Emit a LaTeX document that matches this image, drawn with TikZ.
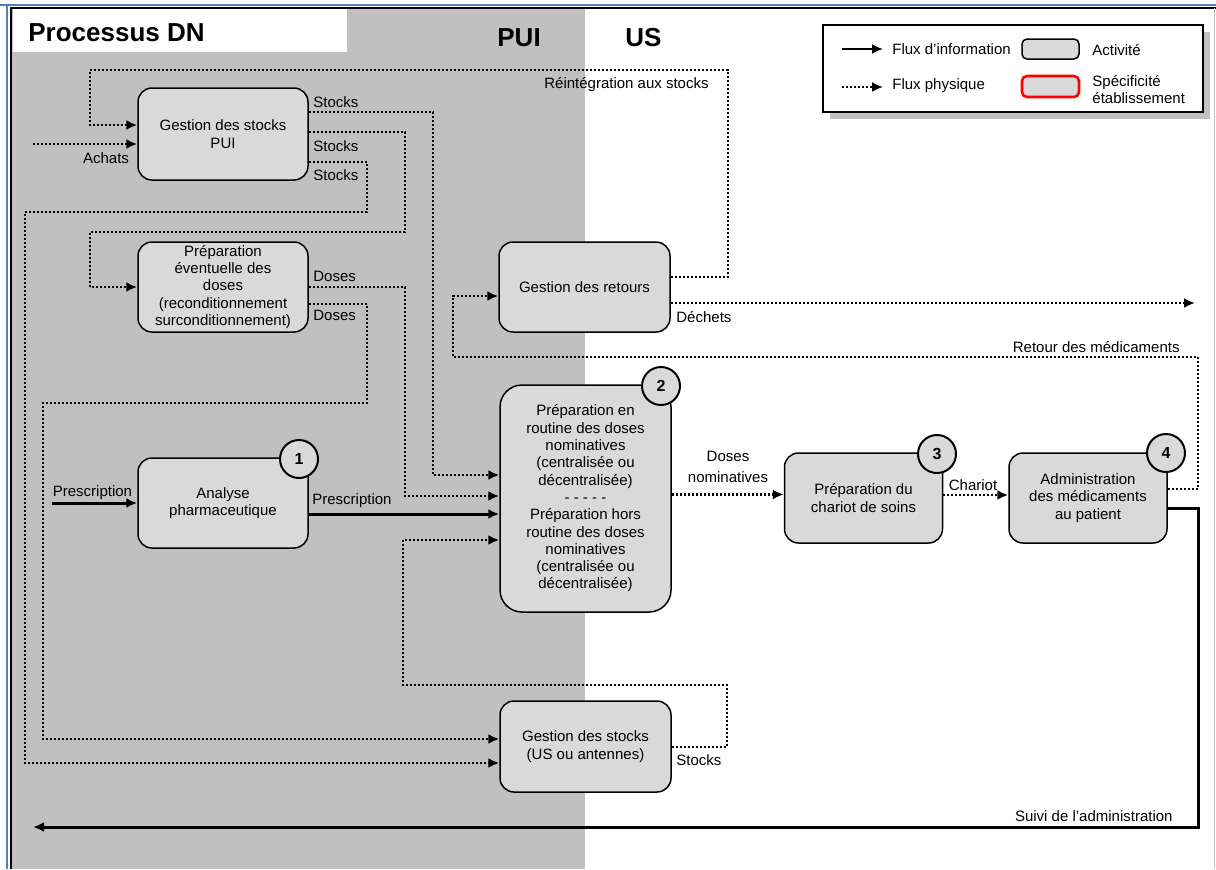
\documentclass[tikz,border=0pt]{standalone}
\usepackage{fontspec}
\setmainfont{Liberation Sans}
\usetikzlibrary{arrows.meta,calc,positioning}

\definecolor{zonegray}{RGB}{192,192,192}
\definecolor{boxgray}{RGB}{217,217,217}
\definecolor{winblue}{RGB}{79,129,189}

\tikzset{
  activite/.style={draw,rectangle,rounded corners=7pt,fill=boxgray,align=center,inner sep=1pt,line width=0.75pt,minimum width=85pt,minimum height=45pt,font=\fontsize{7.5}{8.65}\selectfont},
  numero/.style={draw,circle,fill=boxgray,minimum size=19pt,inner sep=0pt,line width=1pt,font=\bfseries\fontsize{8}{9}\selectfont},
  physique/.style={line width=1.3pt,dash pattern=on 1.1pt off 0.9pt,-{Latex[length=5.5pt,width=5pt]}},
  information/.style={line width=1.5pt,-{Latex[length=5.5pt,width=5pt]}},
  etiq/.style={inner sep=0pt,font=\fontsize{7.5}{8.65}\selectfont},
  gros/.style={inner sep=0pt,anchor=base west,font=\bfseries\fontsize{13}{15}\selectfont}
}

\begin{document}
\begin{tikzpicture}[x=0.5pt,y=-0.5pt]
\useasboundingbox (0,0) rectangle (1216,869);
% fond PUI / US
\fill[zonegray] (11,8) rectangle (585,869);
\fill[white] (13,9) rectangle (347,52);
\draw[winblue,line width=1.2pt] (0,5) -- (1216,5);
\draw[winblue,line width=1.2pt] (7,5) -- (7,869);
\draw[line width=0.8pt] (11,869) -- (11,8) -- (1216,8);
\draw[lightgray] (1214,8) -- (1214,869);

\node[gros] (titre) at (28,41) {Processus DN};
\node[gros] (pui) at (497,46) {PUI};
\node[gros] (us) at (625,46) {US};

% legende
\fill[zonegray] (830,32) rectangle (1210,119);
\draw[fill=white,line width=0.6pt] (823,25) rectangle (1203,112);
\coordinate (li1) at (842,49);
\coordinate (li2) at (883,49);
\coordinate (lp1) at (842,87);
\coordinate (lp2) at (883,87);
\draw[information,line width=1pt] (li1) -- (li2);
\draw[physique,line width=1pt] (lp1) -- (lp2);
\node[etiq,anchor=west] (lgInfo) at (892,49) {Flux d’information};
\node[etiq,anchor=west] (lgPhys) at (892,86) {Flux physique};
\node[activite,minimum width=28.5pt,minimum height=10pt,rounded corners=2.5pt] (lgAct) at (1050.5,49) {};
\node[activite,draw=red,line width=1.3pt,minimum width=28.5pt,minimum height=10.5pt,rounded corners=2.5pt] (lgSpec) at (1050.5,86.5) {};
\node[etiq,anchor=west] (lgActT) at (1092,50) {Activité};
\node[etiq,anchor=west,align=left] (lgSpecT) at (1092,89.5) {Spécificité\\établissement};

% activites
\node[activite,minimum height=46pt] (stockpui) at (223,134) {Gestion des stocks\\PUI};
\node[activite] (prepev) at (223,287) {Préparation\\éventuelle des\\doses\\(reconditionnement\\surconditionnement)};
\node[activite] (analyse) at (223,503) {Analyse\\pharmaceutique};
\node[activite,minimum width=85.5pt] (retours) at (584.5,287) {Gestion des retours};
\node[activite,minimum width=85.5pt,minimum height=113.5pt,rounded corners=11pt] (prepdn) at (585.5,498.5) {Préparation en\\routine des doses\\nominatives\\(centralisée ou\\décentralisée)\\- - - - -\\Préparation hors\\routine des doses\\nominatives\\(centralisée ou\\décentralisée)};
\node[activite,minimum width=79pt] (chariot) at (863.5,498) {Préparation du\\chariot de soins};
\node[activite,minimum width=79pt] (admin) at (1088,498) {Administration\\des médicaments\\au patient};
\node[activite,minimum width=85.5pt,minimum height=45.5pt] (stockus) at (585.5,746.5) {Gestion des stocks\\(US ou antennes)};

\foreach \n/\x/\y in {1/299/459,2/661/386,3/937/454,4/1166/453}
  \node[numero] (num\n) at (\x,\y) {\n};

% flux physiques
\coordinate (achats) at (33,144);
\coordinate (dechets) at (1195,303);
\draw[physique] ($(retours.east)+(0,-10)$) -- (728,277) -- (728,70) -- (90,70) -- (90,125) -- ($(stockpui.west)+(0,-9)$);
\draw[physique] (achats) -- ($(stockpui.west)+(0,10)$);
\draw[physique] ($(stockpui.east)+(0,-22)$) -- (433,112) -- (433,475) -- ($(prepdn.west)+(0,-23.5)$);
\draw[physique] ($(stockpui.east)+(0,-2)$) -- (405,132) -- (405,232) -- (90,232) -- (90,287) -- (prepev.west);
\draw[physique] ($(stockpui.east)+(0,28)$) -- (367,162) -- (367,212) -- (25,212) -- (25,763) -- ($(stockus.west)+(0,16.5)$);
\draw[physique] (prepev.east) -- (405,287) -- (405,496) -- ($(prepdn.west)+(0,-2.5)$);
\draw[physique] ($(prepev.east)+(0,17)$) -- (367,304) -- (367,403) -- (43,403) -- (43,739) -- ($(stockus.west)+(0,-7.5)$);
\draw[physique] ($(admin.east)+(0,-9)$) -- (1198,489) -- (1198,357) -- (453,357) -- (453,296) -- ($(retours.west)+(0,9)$);
\draw[physique] ($(retours.east)+(0,16)$) -- (dechets);
\draw[physique] ($(prepdn.east)+(0,-4)$) -- ($(chariot.west)+(0,-3.5)$);
\draw[physique] ($(chariot.east)+(0,-3)$) -- ($(admin.west)+(0,-3)$);
\draw[physique] ($(stockus.east)+(0,0.5)$) -- (727,747) -- (727,685) -- (403,685) -- (403,540) -- ($(prepdn.west)+(0,41.5)$);

% flux d'information
\coordinate (prescr) at (52,503);
\coordinate (suivi) at (33,827);
\draw[information] (prescr) -- (analyse.west);
\draw[information] ($(analyse.east)+(0,11)$) -- ($(prepdn.west)+(0,15.5)$);
\draw[information] ($(admin.east)+(0,10)$) -- (1198,508) -- (1198,827) -- (suivi);

% etiquettes
\foreach \n/\y in {1/102,2/146,3/175}
  \node[etiq,anchor=west] (stocks\n) at (313,\y) {Stocks};
\node[etiq] (etAchats) at (106,158) {Achats};
\node[etiq,anchor=east] (etReint) at (709,85) {Réintégration aux stocks};
\node[etiq,anchor=west] (doses1) at (313,276) {Doses};
\node[etiq,anchor=west] (doses2) at (313,315) {Doses};
\node[etiq] (etPrescrA) at (92.5,493) {Prescription};
\node[etiq] (etPrescrB) at (352,501) {Prescription};
\node[etiq,anchor=west] (etDechets) at (676,317) {Déchets};
\node[etiq,anchor=east] (etRetour) at (1180,347) {Retour des médicaments};
\node[etiq,align=center] (etDosesN) at (728,467) {Doses\\[1.8pt]nominatives};
\node[etiq] (etChariot) at (973,485) {Chariot};
\node[etiq,anchor=west] (stocksUS) at (676,760) {Stocks};
\node[etiq,anchor=east] (etSuivi) at (1173,816) {Suivi de l’administration};
\end{tikzpicture}
\end{document}
